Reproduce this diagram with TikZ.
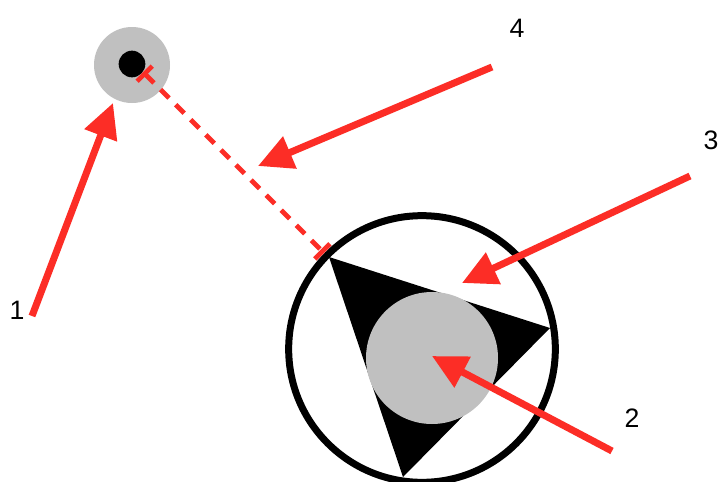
\documentclass[tikz,border=0pt]{standalone}
\usepackage{fontspec}
\setmainfont{Liberation Sans}
\usetikzlibrary{arrows.meta}
\definecolor{ptred}{RGB}{252,45,38}
\definecolor{ptgray}{RGB}{192,192,192}

\begin{document}
\begin{tikzpicture}[x=0.75pt,y=-0.75pt,
    callout/.style={ptred,line width=5.25pt,-{Triangle[length=26pt,width=25pt]}},
    num/.style={font=\fontsize{20}{24}\selectfont,inner sep=0pt}]
  \clip (0,0) rectangle (718,482);
  \fill[white] (0,0) rectangle (718,482);
  % pointer circle with dot
  \fill[ptgray] (132,65) circle (28.5pt);
  \fill[black] (132,64) circle (10pt);
  % wheel, triangle and hub
  \draw[line width=5.25pt] (422,349) circle (100pt);
  \fill[black] (329,257) -- (550,328) -- (403,477) -- cycle;
  \fill[ptgray] (432,358) circle (49.5pt);
  % labels
  \node[num] (lab1) at (17,310) {1};
  \node[num] (lab2) at (632,418) {2};
  \node[num] (lab3) at (711,140) {3};
  \node[num] (lab4) at (517,28) {4};
  % arrow ends
  \coordinate (s1) at (32,316);  \coordinate (t1) at (113,103);
  \coordinate (s2) at (612,451); \coordinate (t2) at (432,356);
  \coordinate (s3) at (690,176); \coordinate (t3) at (462,283);
  \coordinate (s4) at (492,67);  \coordinate (t4) at (258,166);
  \coordinate (d0) at (143,72);  \coordinate (d1) at (324,253);
  \draw[ptred,line width=3.5pt,dash pattern=on 9pt off 7pt,
        {Bar[width=16pt]}-{Bar[width=16pt]}] (d0) -- (d1);
  \foreach \i in {1,...,4}
    \draw[callout] (s\i) -- (t\i);
\end{tikzpicture}
\end{document}
